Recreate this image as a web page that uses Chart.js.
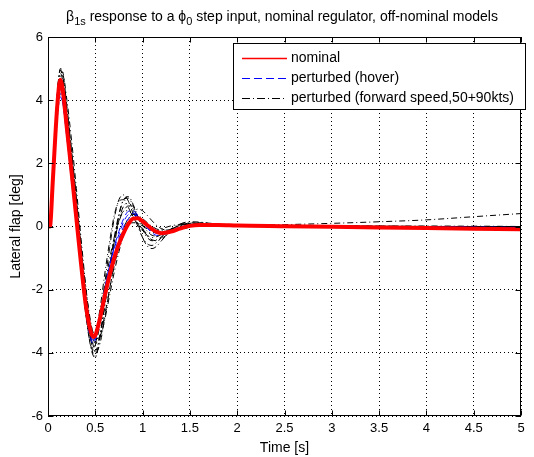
<!DOCTYPE html>
<html lang="en">
<head>
  <meta charset="UTF-8" />
  <title>Lateral flap step response</title>
  <script src="https://cdn.jsdelivr.net/npm/chart.js"></script>
  <style>
    * { margin: 0; padding: 0; box-sizing: border-box; }
    body { background: #fff; }
    .wrap { position: relative; width: 534px; height: 457px; background: #fff; }
  </style>
</head>
<body>
  <div class="wrap"><canvas id="flapChart"></canvas></div>

  <script>
    // time base [s]
    const timeS = [0, 0.02, 0.05, 0.08, 0.1, 0.13, 0.15, 0.2, 0.25, 0.3, 0.35, 0.4, 0.45, 0.48, 0.5,
      0.55, 0.6, 0.65, 0.7, 0.75, 0.8, 0.85, 0.9, 0.95, 1.0, 1.05, 1.1, 1.15, 1.2, 1.3,
      1.4, 1.5, 1.6, 1.8, 2.0, 2.5, 3.0, 3.5, 4.0, 4.5, 5.0];

    // nominal model
    const nominal = [0, 0, 1.4, 3.0, 3.9, 4.65, 4.45, 3.1, 1.7, 0.25, -1.2, -2.5, -3.3, -3.5, -3.45,
      -2.9, -2.2, -1.55, -1.0, -0.55, -0.2, 0.08, 0.25, 0.26, 0.16, 0.04, -0.08, -0.17, -0.21, -0.16,
      -0.06, 0.02, 0.05, 0.05, 0.03, 0.01, -0.01, -0.03, -0.05, -0.07, -0.09];

    // perturbed, hover
    const hover1 = [0, 0, 1.3, 2.8, 3.6, 4.2, 4.0, 2.8, 1.4, 0.0, -1.4, -2.6, -3.45, -3.6, -3.5,
      -2.8, -1.95, -1.25, -0.7, -0.25, 0.15, 0.38, 0.42, 0.32, 0.15, -0.02, -0.15, -0.22, -0.22, -0.13,
      -0.02, 0.04, 0.06, 0.05, 0.03, 0.01, 0, -0.01, -0.02, -0.03, -0.04];
    const hover2 = [0, 0, 1.4, 2.9, 3.75, 4.35, 4.15, 2.9, 1.5, 0.05, -1.4, -2.7, -3.55, -3.7, -3.6,
      -2.9, -2.0, -1.25, -0.65, -0.15, 0.25, 0.48, 0.5, 0.36, 0.15, -0.05, -0.2, -0.28, -0.27, -0.15,
      -0.02, 0.05, 0.07, 0.05, 0.02, 0.01, 0, -0.01, -0.02, -0.02, -0.03];
    const hover3 = [0, 0, 1.2, 2.7, 3.5, 4.1, 4.0, 2.9, 1.6, 0.2, -1.2, -2.45, -3.35, -3.55, -3.5,
      -2.95, -2.15, -1.45, -0.85, -0.38, 0.0, 0.25, 0.35, 0.32, 0.2, 0.05, -0.08, -0.16, -0.19, -0.13,
      -0.04, 0.02, 0.04, 0.04, 0.03, 0.01, 0, -0.01, -0.02, -0.03, -0.04];

    // perturbed, forward speed 50 / 90 kts
    const fwd1 = [0, 0, 1.5, 3.2, 4.2, 5.0, 4.95, 3.8, 2.4, 0.9, -0.7, -2.3, -3.6, -4.05, -4.1,
      -3.5, -2.4, -1.3, -0.35, 0.4, 0.85, 0.9, 0.65, 0.3, -0.05, -0.3, -0.42, -0.45, -0.38, -0.18,
      0.0, 0.1, 0.12, 0.08, 0.04, 0.02, 0.01, 0, 0, 0, 0];
    const fwd2 = [0, 0, 1.6, 3.3, 4.2, 4.85, 4.7, 3.4, 1.9, 0.3, -1.3, -2.8, -3.75, -3.9, -3.75,
      -2.9, -1.8, -0.7, 0.25, 0.85, 1.0, 0.8, 0.4, 0.0, -0.35, -0.55, -0.6, -0.5, -0.35, -0.08,
      0.08, 0.12, 0.1, 0.05, 0.02, 0.01, 0, 0, 0, 0, 0];
    const fwd3 = [0, 0, 1.4, 3.0, 3.9, 4.6, 4.5, 3.3, 2.0, 0.5, -1.0, -2.4, -3.5, -3.8, -3.75,
      -3.1, -2.2, -1.3, -0.5, 0.15, 0.5, 0.65, 0.55, 0.3, 0.05, -0.15, -0.28, -0.3, -0.26, -0.1,
      0.03, 0.08, 0.08, 0.05, 0.03, 0.02, 0.02, 0.01, 0.01, 0.01, 0.0];
    const fwd4 = [0, 0, 1.3, 2.9, 3.9, 4.75, 4.9, 4.0, 2.7, 1.2, -0.4, -1.9, -3.2, -3.8, -4.0,
      -3.7, -2.9, -2.0, -1.2, -0.55, -0.05, 0.25, 0.38, 0.35, 0.25, 0.12, 0.0, -0.08, -0.12, -0.1,
      -0.03, 0.02, 0.04, 0.04, 0.04, 0.06, 0.1, 0.15, 0.21, 0.31, 0.41];
    const fwd5 = [0, 0, 1.3, 2.8, 3.7, 4.35, 4.3, 3.2, 1.9, 0.5, -0.9, -2.2, -3.1, -3.35, -3.35,
      -2.8, -1.9, -1.05, -0.35, 0.2, 0.48, 0.5, 0.32, 0.08, -0.14, -0.28, -0.35, -0.32, -0.25, -0.08,
      0.04, 0.08, 0.08, 0.05, 0.03, 0.02, 0.01, 0.01, 0, 0, 0];
    const fwd6 = [0, 0, 1.5, 3.2, 4.2, 4.95, 4.85, 3.7, 2.3, 0.8, -0.8, -2.3, -3.5, -3.9, -3.95,
      -3.4, -2.5, -1.5, -0.6, 0.2, 0.65, 0.75, 0.55, 0.1, -0.35, -0.62, -0.7, -0.62, -0.45, -0.12,
      0.08, 0.15, 0.14, 0.07, 0.03, 0.01, 0, 0, -0.01, -0.01, -0.02];
    const fwd7 = [0, 0, 1.5, 3.1, 4.0, 4.7, 4.55, 3.3, 1.8, 0.2, -1.4, -2.8, -3.5, -3.6, -3.45,
      -2.6, -1.5, -0.5, 0.35, 0.8, 0.85, 0.6, 0.3, 0.05, -0.12, -0.2, -0.2, -0.15, -0.08, 0.02,
      0.06, 0.06, 0.05, 0.03, 0.02, 0.01, 0, 0, 0, 0, 0];
    const fwd8 = [0, 0, 1.2, 2.7, 3.6, 4.4, 4.5, 3.6, 2.3, 0.9, -0.6, -2.0, -3.1, -3.55, -3.7,
      -3.5, -2.8, -2.0, -1.25, -0.65, -0.2, 0.05, 0.12, 0.1, 0.02, -0.08, -0.15, -0.2, -0.2, -0.14,
      -0.05, 0.02, 0.05, 0.06, 0.04, 0.02, 0.01, 0, 0, 0, 0];
    const fwd9 = [0, 0, 1.6, 3.3, 4.3, 4.95, 4.8, 3.5, 2.0, 0.4, -1.2, -2.7, -3.8, -4.1, -4.15,
      -3.5, -2.5, -1.4, -0.45, 0.35, 0.85, 0.95, 0.7, 0.3, -0.1, -0.35, -0.45, -0.42, -0.32, -0.1,
      0.05, 0.1, 0.1, 0.06, 0.03, 0.02, 0.01, 0.01, 0, 0, 0];
    const fwd10 = [0, 0, 1.2, 2.7, 3.5, 4.25, 4.3, 3.4, 2.2, 0.8, -0.7, -2.0, -3.0, -3.4, -3.55,
      -3.5, -2.95, -2.2, -1.45, -0.8, -0.25, 0.2, 0.45, 0.55, 0.5, 0.35, 0.18, 0.03, -0.07, -0.15,
      -0.1, -0.02, 0.03, 0.05, 0.04, 0.03, 0.02, 0.01, 0.01, 0, 0];

    const hoverRuns = [hover1, hover2, hover3];
    const forwardRuns = [fwd1, fwd2, fwd3, fwd4, fwd5, fwd6, fwd7, fwd8, fwd9, fwd10];

    const xTicks = [0, 0.5, 1, 1.5, 2, 2.5, 3, 3.5, 4, 4.5, 5];
    const xTickLabels = ['0', '0.5', '1', '1.5', '2', '2.5', '3', '3.5', '4', '4.5', '5'];
    const yTicks = [-6, -4, -2, 0, 2, 4, 6];
    const yTickLabels = ['-6', '-4', '-2', '0', '2', '4', '6'];
    const legendLabels = ['nominal', 'perturbed (hover)', 'perturbed (forward speed,50+90kts)'];

    const FONT = "'Liberation Sans', Arial, Helvetica, sans-serif";

    function pts(ys) {
      return ys.map((y, i) => ({ x: timeS[i], y: y }));
    }

    const datasets = [];
    datasets.push({ data: pts(nominal), borderColor: '#ff0000', borderWidth: 4 });
    hoverRuns.forEach(r => datasets.push({ data: pts(r), borderColor: '#0000ff', borderWidth: 1, borderDash: [6, 4] }));
    forwardRuns.forEach(r => datasets.push({ data: pts(r), borderColor: '#000000', borderWidth: 1, borderDash: [6, 3, 1, 3] }));

    // frame, inner tick marks, title, axis titles and boxed legend
    const matlabLook = {
      id: 'matlabLook',
      afterDraw(chart) {
        const c = chart.ctx;
        const a = chart.chartArea;
        const xs = chart.scales.x, ys = chart.scales.y;
        const L = Math.round(a.left) + 0.5, R = Math.round(a.right) - 0.5;
        const T = Math.round(a.top) + 0.5, B = Math.round(a.bottom) - 0.5;
        c.save();
        c.strokeStyle = '#000';
        c.lineWidth = 1;
        c.setLineDash([]);
        c.strokeRect(L, T, R - L, B - T);
        c.beginPath();
        xTicks.forEach(v => {
          const px = Math.round(xs.getPixelForValue(v)) + 0.5;
          c.moveTo(px, B); c.lineTo(px, B - 5);
          c.moveTo(px, T); c.lineTo(px, T + 5);
        });
        yTicks.forEach(v => {
          const py = Math.round(ys.getPixelForValue(v)) + 0.5;
          c.moveTo(L, py); c.lineTo(L + 5, py);
          c.moveTo(R, py); c.lineTo(R - 5, py);
        });
        c.stroke();

        // title with subscripts
        c.fillStyle = '#000';
        c.textBaseline = 'alphabetic';
        c.textAlign = 'left';
        const parts = [
          ['\u03B2', 14, 0], ['1s', 11, 4], [' response to a ', 14, 0],
          ['\u03D5', 14, 0], ['0', 11, 4], [' step input, nominal regulator, off-nominal models', 14, 0]
        ];
        let total = 0;
        parts.forEach(p => { c.font = p[1] + 'px ' + FONT; total += c.measureText(p[0]).width; });
        let tx = 282 - total / 2;
        parts.forEach(p => {
          c.font = p[1] + 'px ' + FONT;
          c.fillText(p[0], tx, 21 + p[2]);
          tx += c.measureText(p[0]).width;
        });

        // axis titles
        c.font = '14px ' + FONT;
        c.textAlign = 'center';
        c.textBaseline = 'middle';
        c.fillText('Time [s]', (a.left + a.right) / 2, 448);
        c.save();
        c.translate(16, (a.top + a.bottom) / 2);
        c.rotate(-Math.PI / 2);
        c.fillText('Lateral flap [deg]', 0, 0);
        c.restore();

        // legend box
        const bx = 233.5, by = 43.5, bw = 292, bh = 66;
        c.fillStyle = '#fff';
        c.fillRect(bx, by, bw, bh);
        c.strokeStyle = '#000';
        c.strokeRect(bx, by, bw, bh);
        const styles = [
          { color: '#ff0000', dash: [], w: 1.5 },
          { color: '#0000ff', dash: [8, 4], w: 1 },
          { color: '#000000', dash: [8, 3, 1, 3], w: 1 }
        ];
        c.textAlign = 'left';
        legendLabels.forEach((lab, i) => {
          const yy = 58 + i * 20;
          c.beginPath();
          c.strokeStyle = styles[i].color;
          c.lineWidth = styles[i].w;
          c.setLineDash(styles[i].dash);
          c.moveTo(242, yy + 0.5);
          c.lineTo(287, yy + 0.5);
          c.stroke();
          c.fillStyle = '#000';
          c.fillText(lab, 291, yy);
        });
        c.restore();
      }
    };

    const ctx = document.getElementById('flapChart').getContext('2d');
    new Chart(ctx, {
      type: 'line',
      data: { datasets: datasets },
      options: {
        responsive: true,
        maintainAspectRatio: false,
        animation: false,
        events: [],
        layout: { padding: { top: 37, right: 13, bottom: 0, left: 0 } },
        elements: {
          point: { radius: 0 },
          line: { cubicInterpolationMode: 'monotone', borderCapStyle: 'butt', borderJoinStyle: 'round' }
        },
        plugins: { legend: { display: false }, title: { display: false }, tooltip: { enabled: false } },
        scales: {
          x: {
            type: 'linear',
            min: 0, max: 5,
            afterBuildTicks: s => { s.ticks = xTicks.map(v => ({ value: v })); },
            afterFit: s => { s.height = 41; },
            border: { display: false, dash: [1, 3] },
            grid: { color: '#000', lineWidth: 1, drawTicks: false },
            ticks: {
              color: '#000', padding: 5, maxRotation: 0, autoSkip: false,
              font: { family: FONT, size: 13 },
              callback: (v, i) => xTickLabels[i]
            }
          },
          y: {
            type: 'linear',
            min: -6, max: 6,
            afterBuildTicks: s => { s.ticks = yTicks.map(v => ({ value: v })); },
            afterFit: s => { s.width = 48; },
            border: { display: false, dash: [1, 3] },
            grid: { color: '#000', lineWidth: 1, drawTicks: false },
            ticks: {
              color: '#000', padding: 5, autoSkip: false,
              font: { family: FONT, size: 13 },
              callback: (v, i) => yTickLabels[i]
            }
          }
        }
      },
      plugins: [matlabLook]
    });
  </script>
</body>
</html>
